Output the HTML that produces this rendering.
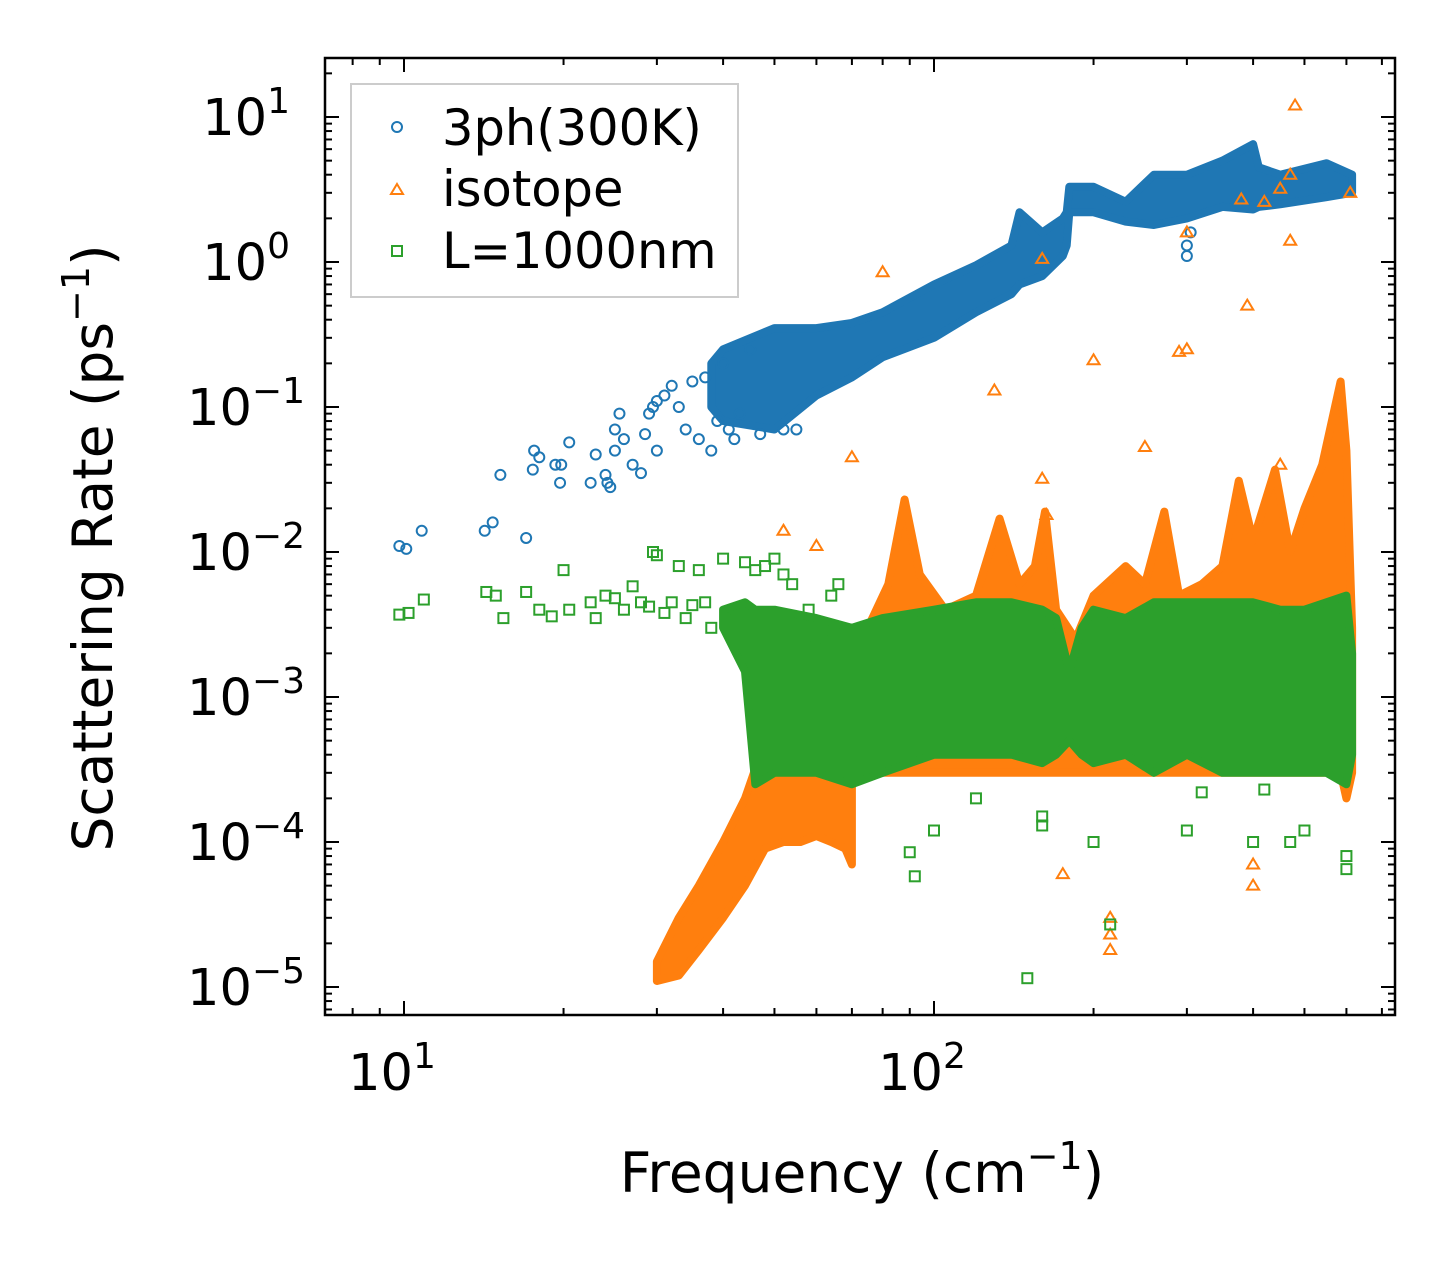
<!DOCTYPE html>
<html><head><meta charset="utf-8"><style>
body{margin:0;background:#fff;}
svg text{font-family:"DejaVu Sans","Liberation Sans",sans-serif;fill:#000;}
</style></head><body>
<svg id="chart" width="1455" height="1265" viewBox="0 0 1455 1265" xmlns="http://www.w3.org/2000/svg">
<g id="bands"></g>
<g id="marks"></g>
<rect x="325" y="58" width="1070" height="957" fill="none" stroke="#000" stroke-width="2.5"/>
<g id="ticks"></g>
<text x="862" y="1192" font-size="55" text-anchor="middle">Frequency (cm<tspan dy="-23" font-size="38">−1</tspan><tspan dy="23">)</tspan></text>
<text transform="translate(112,548) rotate(-90)" font-size="55" text-anchor="middle">Scattering Rate (ps<tspan dy="-23" font-size="38">−1</tspan><tspan dy="23">)</tspan></text>
<g>
<rect x="351" y="84" width="387" height="213" fill="#fff" fill-opacity="0.8" stroke="#ccc" stroke-width="2"/>
<circle cx="397" cy="127" r="5" fill="none" stroke="#1f77b4" stroke-width="2"/>
<text x="442" y="145" font-size="49.5">3ph(300K)</text>
<path d="M397,184 L403,194 L391,194 Z" fill="none" stroke="#ff7f0e" stroke-width="2"/>
<text x="442" y="206" font-size="49.5">isotope</text>
<rect x="392" y="246" width="10" height="10" fill="none" stroke="#2ca02c" stroke-width="2"/>
<text x="442" y="268" font-size="49.5">L=1000nm</text>
</g>
</svg>
<script>
// ---- data ----
const blueF=[9.8,10.1,10.8,14.2,14.7,15.2,17,17.5,17.6,18,19.3,19.7,19.8,20.5,22.5,23,24,24.2,24.5,25,25,25.5,26,27,28,28.5,29,29.5,30,30,31,32,33,34,35,36,37,38,40,42,45,55,300,300,305,39,41,43,47,52];
const blueR=[0.011,0.0105,0.014,0.014,0.016,0.034,0.0125,0.037,0.05,0.045,0.04,0.03,0.04,0.057,0.03,0.047,0.034,0.03,0.028,0.05,0.07,0.09,0.06,0.04,0.035,0.065,0.09,0.1,0.05,0.11,0.12,0.14,0.1,0.07,0.15,0.06,0.16,0.05,0.2,0.06,0.25,0.07,1.1,1.3,1.6,0.08,0.07,0.09,0.065,0.07];
const blueBandF=[38,40,50,60,70,80,100,120,140,145,160,175,178,180,200,230,260,300,350,400,410,450,550,615];
const blueBandHi=[0.2,0.25,0.35,0.35,0.38,0.45,0.7,0.95,1.3,2.2,1.6,2.0,2.2,3.3,3.3,2.6,4.0,4.0,5.0,6.5,4.5,4.0,4.8,4.0];
const blueBandLo=[0.1,0.08,0.07,0.12,0.16,0.22,0.3,0.45,0.6,0.7,0.8,1.1,1.3,2.2,2.2,1.9,1.8,2.0,2.4,2.3,2.4,2.5,2.8,3.0];

const orangeF=[52,60,70,80,130,160,160,163,200,250,290,300,300,380,390,420,480,450,470,470,610,175,215,215,215,400,400,450];
const orangeR=[0.014,0.011,0.045,0.85,0.13,1.05,0.032,0.018,0.21,0.053,0.24,0.25,1.6,2.7,0.5,2.6,12,3.2,1.4,4,3,6e-5,3e-5,2.3e-5,1.8e-5,5e-5,7e-5,0.04];
const orangeLowF=[30,33,36,40,44,48,52,56,60,64,68,70];
const orangeLowHi=[1.5e-5,3e-5,5e-5,1e-4,2e-4,5e-4,8e-4,1e-3,1e-3,1e-3,1e-3,1e-3];
const orangeLowLo=[1.1e-5,1.2e-5,1.8e-5,3e-5,5e-5,9e-5,1e-4,1e-4,1.1e-4,1e-4,9e-5,7e-5];
const orangeBandF=[64,75,82,88,94,105,120,133,145,155,162,170,185,200,230,250,272,290,320,350,376,400,440,470,500,540,585,600,615];
const orangeBandHi=[2e-3,3e-3,6e-3,0.023,7e-3,4e-3,5e-3,0.017,6e-3,8e-3,0.019,4e-3,2.5e-3,5e-3,8e-3,6e-3,0.019,5e-3,6e-3,8e-3,0.031,0.012,0.037,0.01,0.02,0.04,0.15,0.05,3e-3];
const orangeBandLo=[4e-4,3e-4,3e-4,3e-4,3e-4,3e-4,3e-4,3e-4,3e-4,3e-4,3e-4,3e-4,3e-4,3e-4,3e-4,3e-4,3e-4,3e-4,3e-4,3e-4,3e-4,3e-4,3e-4,3e-4,3e-4,3e-4,3e-4,2e-4,3e-4];

const greenF=[9.8,10.2,10.9,14.3,14.9,15.4,17,18,19,20,20.5,22.5,23,24,25,26,27,28,29,29.5,30,31,32,33,34,35,36,37,38,40,42,44,46,48,50,52,54,56,58,60,62,64,66,90,92,100,120,160,160,200,215,300,320,400,420,470,500,600,600,150];
const greenR=[3.7e-3,3.8e-3,4.7e-3,5.3e-3,5e-3,3.5e-3,5.3e-3,4e-3,3.6e-3,7.5e-3,4e-3,4.5e-3,3.5e-3,5e-3,4.8e-3,4e-3,5.8e-3,4.5e-3,4.2e-3,0.01,0.0095,3.8e-3,4.5e-3,8e-3,3.5e-3,4.3e-3,7.5e-3,4.5e-3,3e-3,0.009,3.5e-3,0.0085,0.0075,0.008,0.009,0.007,0.006,0.0035,0.004,2.2e-3,2.5e-3,5e-3,6e-3,8.5e-5,5.8e-5,1.2e-4,2e-4,1.3e-4,1.5e-4,1e-4,2.7e-5,1.2e-4,2.2e-4,1e-4,2.3e-4,1e-4,1.2e-4,8e-5,6.5e-5,1.15e-5];
const greenBandF=[40,44,46,50,60,70,80,100,120,140,160,170,180,190,200,230,260,300,350,400,450,500,550,600,615];
const greenBandHi=[4e-3,4.5e-3,4e-3,4e-3,3.5e-3,3e-3,3.5e-3,4e-3,4.5e-3,4.5e-3,4e-3,3.5e-3,1.5e-3,3e-3,4e-3,3.5e-3,4.5e-3,4.5e-3,4.5e-3,4.5e-3,4e-3,4e-3,4.5e-3,5e-3,2e-3];
const greenBandLo=[3e-3,1.5e-3,2.5e-4,3e-4,3e-4,2.5e-4,3e-4,4e-4,4e-4,4e-4,3.5e-4,4e-4,5e-4,4e-4,3.5e-4,4e-4,3e-4,4e-4,3e-4,3e-4,3e-4,3e-4,3e-4,2.5e-4,4e-4];

const xMajor=[10,100];
const xMajorLabels=["1","2"];
const yMajor=[-5,-4,-3,-2,-1,0,1];
const yMajorLabels=["−5","−4","−3","−2","−1","0","1"];

// ---- axes ----
const X=f=>404+530*(Math.log10(f)-1);
const Y=r=>262-145*Math.log10(r);
const NS="http://www.w3.org/2000/svg";
const bands=document.getElementById('bands'),marks=document.getElementById('marks'),ticks=document.getElementById('ticks');
function mk(t,a,p){const e=document.createElementNS(NS,t);for(const k in a)e.setAttribute(k,a[k]);p.appendChild(e);return e;}

function band(F,Hi,Lo,col,name){
  let d='M'+F.map((f,i)=>X(f).toFixed(1)+','+Y(Hi[i]).toFixed(1)).join(' L');
  for(let i=F.length-1;i>=0;i--)d+=' L'+X(F[i]).toFixed(1)+','+Y(Lo[i]).toFixed(1);
  const p=mk('path',{d:d+' Z',fill:col,stroke:col,'stroke-width':8,'stroke-linejoin':'round'},bands);
  
  
}
function pts(F,R,col,shape,name){
  F.forEach((f,i)=>{
    const x=X(f),y=Y(R[i]);let e;
    if(shape==='c')e=mk('circle',{cx:x,cy:y,r:5,fill:'none',stroke:col,'stroke-width':2},marks);
    else if(shape==='t')e=mk('path',{d:`M${x},${y-6} L${x+6},${y+4} L${x-6},${y+4} Z`,fill:'none',stroke:col,'stroke-width':2},marks);
    else e=mk('rect',{x:x-5,y:y-5,width:10,height:10,fill:'none',stroke:col,'stroke-width':2},marks);
    
    
  });
}
band(blueBandF,blueBandHi,blueBandLo,'#1f77b4','3ph-band');
pts(blueF,blueR,'#1f77b4','c','3ph-point');
band(orangeLowF,orangeLowHi,orangeLowLo,'#ff7f0e','isotope-low-band');
band(orangeBandF,orangeBandHi,orangeBandLo,'#ff7f0e','isotope-band');
pts(orangeF,orangeR,'#ff7f0e','t','isotope-point');
band(greenBandF,greenBandHi,greenBandLo,'#2ca02c','boundary-band');
pts(greenF,greenR,'#2ca02c','s','boundary-point');

// ticks
const L=325,R=1395,T=58,B=1015;
for(let d=0;d<=2;d++)for(let m=1;m<=9;m++){
  const f=m*Math.pow(10,d);const x=X(f);if(x<L||x>R)continue;const len=m===1?14:7;
  const a=mk('line',{x1:x,x2:x,y1:B,y2:B-len,stroke:'#000','stroke-width':2},ticks);
  
  const b=mk('line',{x1:x,x2:x,y1:T,y2:T+len,stroke:'#000','stroke-width':2},ticks);
  
}
xMajor.forEach((f,i)=>{
  const t=mk('text',{x:X(f)-12,y:1090,'font-size':51,'text-anchor':'middle'},ticks);
  t.innerHTML='10<tspan dy="-22" font-size="36">'+xMajorLabels[i]+'</tspan>';
  
});
for(let d=-6;d<=1;d++)for(let m=1;m<=9;m++){
  const r=m*Math.pow(10,d);const y=Y(r);if(y<T||y>B)continue;const len=m===1?14:7;
  const a=mk('line',{x1:L,x2:L+len,y1:y,y2:y,stroke:'#000','stroke-width':2},ticks);
  
  const b=mk('line',{x1:R,x2:R-len,y1:y,y2:y,stroke:'#000','stroke-width':2},ticks);
  
}
yMajor.forEach((e,i)=>{
  const y=Y(Math.pow(10,e));
  const t=mk('text',{x:e<0?305:290,y:y+18,'font-size':51,'text-anchor':'end'},ticks);
  t.innerHTML='10<tspan dy="-22" font-size="36">'+yMajorLabels[i]+'</tspan>';
  
});
</script>
</body></html>
